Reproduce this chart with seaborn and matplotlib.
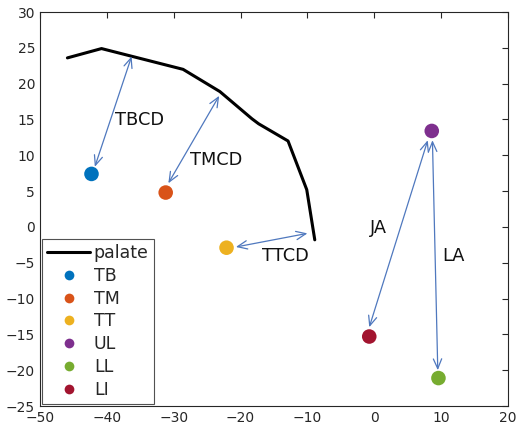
import numpy as np
import pandas as pd
import matplotlib
matplotlib.use("Agg")
import matplotlib.pyplot as plt
import seaborn as sns

# palate trace
palate_x = [-45.9, -40.8, -28.6, -23.1, -18.3, -17.3, -12.9, -10.1, -8.9]
palate_y = [23.6, 24.9, 22.0, 18.9, 15.1, 14.4, 12.0, 5.2, -1.8]

# sensor points
sensors = ["TB", "TM", "TT", "UL", "LL", "LI"]
sensor_x = [-42.3, -31.2, -22.1, 8.6, 9.6, -0.75]
sensor_y = [7.4, 4.8, -2.9, 13.4, -21.1, -15.3]
sensor_colors = ["#0072BD", "#D95319", "#EDB120", "#7E2F8E", "#77AC30", "#A2142F"]

# distance arrows: label, (x0, y0) -> (x1, y1), label position
arrow_names = ["TBCD", "TMCD", "TTCD", "JA", "LA"]
arrow_start = [(-41.8, 8.4), (-30.8, 6.1), (-20.7, -2.8), (-0.75, -14.0), (9.5, -20.0)]
arrow_end = [(-36.3, 23.8), (-23.2, 18.3), (-10.0, -0.9), (8.0, 12.1), (8.7, 12.1)]
label_pos = [(-38.8, 14.9), (-27.6, 9.3), (-16.8, -4.1), (-0.6, -0.2), (10.2, -4.1)]

sns.set_style("white")
plt.rcParams['font.family'] = ['DejaVu Sans']

fig = plt.figure(figsize=(5.21, 4.3), dpi=100)
ax = fig.add_axes([0.0768, 0.0558, 0.8982, 0.9162])

pal_df = pd.DataFrame({"x": palate_x, "y": palate_y})
sns.lineplot(data=pal_df, x="x", y="y", sort=False, color="black", lw=2.2,
             label="palate", ax=ax)

pts = pd.DataFrame({"x": sensor_x, "y": sensor_y, "sensor": sensors})
sns.scatterplot(data=pts, x="x", y="y", hue="sensor", hue_order=sensors,
                palette=sensor_colors, s=110, edgecolor="none", ax=ax, zorder=3)

arrow_col = "#4f78be"
for name, p0, p1, lp in zip(arrow_names, arrow_start, arrow_end, label_pos):
    ax.annotate("", xy=p1, xytext=p0,
                arrowprops=dict(arrowstyle="<->,head_length=0.7,head_width=0.3",
                                color=arrow_col, lw=0.9, shrinkA=0, shrinkB=0))
    ax.text(lp[0], lp[1], name, fontsize=12.8, ha="left", va="center", color="#111111")

ax.set_xlim(-50, 20)
ax.set_ylim(-25, 30)
ax.set_xticks(np.arange(-50, 21, 10))
ax.set_yticks(np.arange(-25, 31, 5))
ax.set_xlabel("")
ax.set_ylabel("")
ax.tick_params(direction="in", top=True, right=True, length=4, width=0.8,
               colors="#262626", labelsize=10, labelcolor="#262626")
for s in ax.spines.values():
    s.set_color("#262626")
    s.set_linewidth(0.8)

handles, labels = ax.get_legend_handles_labels()
leg = ax.legend(handles, labels, loc="lower left", fontsize=12.5, frameon=True,
                fancybox=False, edgecolor="#262626", borderpad=0.3,
                labelspacing=0.28, handlelength=2.5, handletextpad=0.2,
                borderaxespad=0.1)
leg.get_frame().set_linewidth(0.8)
for h in leg.legend_handles[1:]:
    if hasattr(h, "set_markersize"):
        h.set_markersize(7)
    elif hasattr(h, "set_sizes"):
        h.set_sizes([45])

fig.savefig("out.png", dpi=100)
